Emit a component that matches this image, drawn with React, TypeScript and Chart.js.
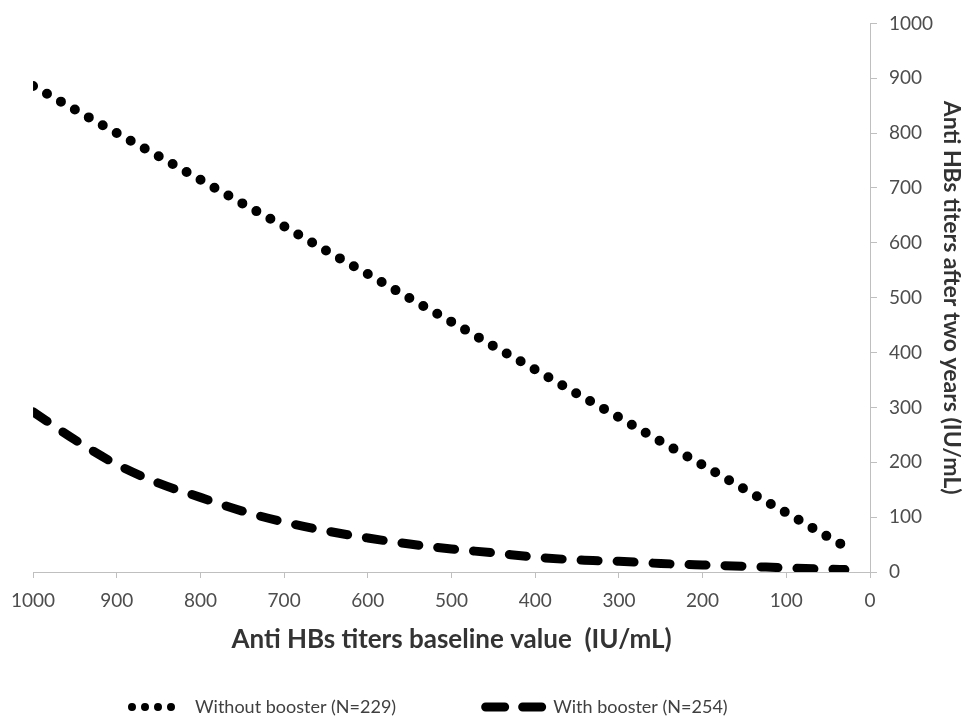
import React, { useEffect, useRef } from 'react';
import { Chart, registerables } from 'chart.js';

Chart.register(...registerables);

// Baseline anti-HBs titer (x, IU/mL)
const baselineValues = [1000, 950, 900, 850, 800, 750, 700, 650, 600, 550, 500, 450, 400, 350, 300, 250, 200, 150, 100, 50, 30];
// Titer after two years, without booster
const withoutBooster = [886, 843, 800, 758, 715, 672, 630, 586, 543, 499, 456, 412, 369, 325, 282, 238, 195, 151, 108, 64, 47];
// Titer after two years, with booster
const withBooster = [292, 241, 196, 162, 136, 111, 91, 75, 62, 51, 42, 35, 27, 22, 19.5, 15.5, 12.8, 10.5, 7.5, 5.2, 4.5];

const seriesLabels = ['Without booster (N=229)', 'With booster (N=254)'];
const xAxisTitle = 'Anti HBs titers baseline value  (IU/mL)';
const yAxisTitle = 'Anti HBs titers after two years (IU/mL)';
const axisMin = 0;
const axisMax = 1000;
const axisStep = 100;

const FONT = 'Lato, "Open Sans", sans-serif';

const legendSamples = [
  { dash: [0, 13], width: 8, len: 52 },
  { dash: [19, 18], width: 9, len: 56 },
];

const bottomLegend = {
  id: 'bottomLegend',
  afterDraw(chart: any) {
    const ctx = chart.ctx as CanvasRenderingContext2D;
    const y = chart.height - 10;
    ctx.save();
    ctx.font = `18px ${FONT}`;
    ctx.textBaseline = 'middle';
    ctx.textAlign = 'left';
    let x = 128;
    chart.data.datasets.forEach((ds: any, i: number) => {
      const s = legendSamples[i];
      ctx.beginPath();
      ctx.setLineDash(s.dash);
      ctx.lineCap = 'round';
      ctx.lineWidth = s.width;
      ctx.strokeStyle = ds.borderColor;
      ctx.moveTo(x + s.width / 2, y);
      ctx.lineTo(x + s.width / 2 + s.len, y);
      ctx.stroke();
      ctx.setLineDash([]);
      const tx = x + s.len + s.width + 7;
      ctx.fillStyle = '#404040';
      ctx.fillText(ds.label, tx, y);
      x = tx + ctx.measureText(ds.label).width + 85;
    });
    ctx.restore();
  },
};

export default function App() {
  const ref = useRef<HTMLCanvasElement>(null);

  useEffect(() => {
    if (!ref.current) return;
    const chart = new Chart(ref.current, {
      type: 'line',
      data: {
        datasets: [
          {
            label: seriesLabels[0],
            data: baselineValues.map((x, i) => ({ x, y: withoutBooster[i] })),
            borderColor: '#000000',
            backgroundColor: '#000000',
            borderWidth: 10,
            borderDash: [0, 16],
            borderCapStyle: 'round',
            pointRadius: 0,
            tension: 0.4,
            cubicInterpolationMode: 'monotone',
            fill: false,
          },
          {
            label: seriesLabels[1],
            data: baselineValues.map((x, i) => ({ x, y: withBooster[i] })),
            borderColor: '#000000',
            backgroundColor: '#000000',
            borderWidth: 9,
            borderDash: [17, 19],
            borderCapStyle: 'round',
            pointRadius: 0,
            tension: 0.4,
            cubicInterpolationMode: 'monotone',
            fill: false,
          },
        ],
      },
      options: {
        animation: false,
        responsive: false,
        maintainAspectRatio: false,
        layout: { padding: { left: 30, top: 22, right: 0, bottom: 57 } },
        plugins: {
          legend: { display: false },
          tooltip: { enabled: false },
        },
        scales: {
          x: {
            type: 'linear',
            reverse: true,
            min: axisMin,
            max: axisMax,
            ticks: {
              stepSize: axisStep,
              color: '#4d4d4d',
              font: { family: FONT, size: 19 },
              padding: 11,
              maxRotation: 0,
              callback: (v: any) => String(v),
            },
            grid: { drawOnChartArea: false, drawTicks: true, tickLength: 6, color: '#bfbfbf' },
            border: { color: '#bfbfbf', width: 1 },
            title: {
              display: true,
              text: xAxisTitle,
              color: '#333333',
              font: { family: FONT, size: 26, weight: 'bold' },
              padding: { top: 4, bottom: 5 },
            },
            afterFit: (s: any) => { s.height = 88; },
          },
          y: {
            type: 'linear',
            position: 'right',
            min: axisMin,
            max: axisMax,
            ticks: {
              stepSize: axisStep,
              color: '#4d4d4d',
              font: { family: FONT, size: 19 },
              padding: 12,
              callback: (v: any) => String(v),
            },
            grid: { drawOnChartArea: false, drawTicks: true, tickLength: 7, color: '#bfbfbf' },
            border: { color: '#bfbfbf', width: 1 },
            title: {
              display: true,
              text: yAxisTitle,
              color: '#333333',
              font: { family: FONT, size: 23, weight: 'bold' },
              padding: { top: 1, bottom: 4 },
            },
            afterFit: (s: any) => { s.width = 96; },
          },
        },
      },
      plugins: [bottomLegend],
    } as any);
    return () => chart.destroy();
  }, []);

  return (
    <div style={{ position: 'fixed', left: 0, top: 0, width: 966, height: 717, background: '#fff' }}>
      <canvas ref={ref} width={966} height={717} style={{ display: 'block' }} />
    </div>
  );
}
